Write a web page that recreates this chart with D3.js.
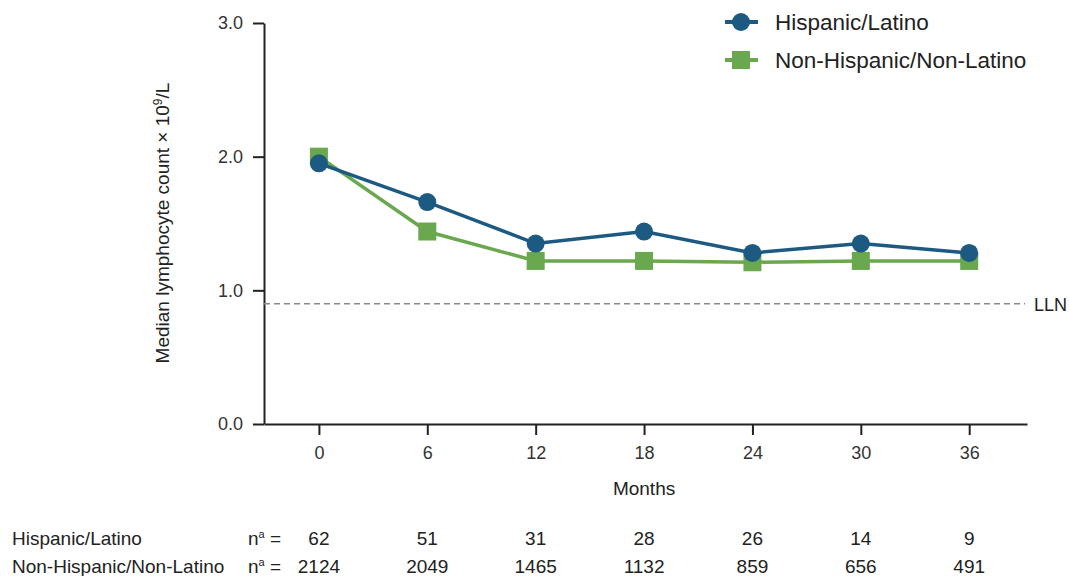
<!DOCTYPE html>
<html>
<head>
<meta charset="utf-8">
<script src="https://cdn.jsdelivr.net/npm/d3@7"></script>
<style>
  body { margin: 0; background: #fff; }
  text { font-family: "Liberation Sans", Arial, sans-serif; }
</style>
</head>
<body>
<div id="chart"></div>
<script>
// data
var months      = [0, 6, 12, 18, 24, 30, 36]
var hispanic    = [1.95, 1.66, 1.35, 1.44, 1.28, 1.35, 1.28]
var nonHispanic = [2.00, 1.44, 1.22, 1.22, 1.21, 1.22, 1.22]
var nHispanic    = [62, 51, 31, 28, 26, 14, 9]
var nNonHispanic = [2124, 2049, 1465, 1132, 859, 656, 491]
var yTicks = [0, 1, 2, 3]
var lln = 0.9
var seriesNames = ['Hispanic/Latino', 'Non-Hispanic/Non-Latino']

var width = 1069, height = 576
var blue = '#1d5a82', green = '#6aa84f'

var svg = d3.select('#chart').append('svg')
	.attr('width', width)
	.attr('height', height)

var x = d3.scaleLinear().domain([-3.04, 39.2]).range([264, 1027])
var y = d3.scaleLinear().domain([0, 3]).range([424, 23])

//y axis
var yAxis = svg.append('g')
	.attr('transform', 'translate(264,0)')
	.call(d3.axisLeft(y).tickValues(yTicks).tickFormat(d3.format('.1f')).tickSize(11).tickSizeOuter(0).tickPadding(10))
yAxis.selectAll('text').attr('font-size', '18px').attr('fill', '#333')
yAxis.selectAll('line, path').attr('stroke', '#222').attr('stroke-width', 2)

//x axis
var xAxis = svg.append('g')
	.attr('transform', 'translate(0,424)')
	.call(d3.axisBottom(x).tickValues(months).tickSize(11).tickSizeOuter(0).tickPadding(11))
xAxis.selectAll('text').attr('font-size', '18px').attr('fill', '#333')
xAxis.selectAll('line, path').attr('stroke', '#222').attr('stroke-width', 2)

svg.append('text')
	.attr('x', x(18)).attr('y', 495)
	.attr('text-anchor', 'middle')
	.attr('font-size', '19px').attr('fill', '#222')
	.text('Months')

var ylab = svg.append('text')
	.attr('transform', 'translate(169,' + 223 + ') rotate(-90)')
	.attr('text-anchor', 'middle')
	.attr('font-size', '19px').attr('fill', '#222')
ylab.append('tspan').text('Median lymphocyte count \u00d7 10')
ylab.append('tspan').attr('dy', -7).attr('font-size', '12px').text('9')
ylab.append('tspan').attr('dy', 7).text('/L')

//LLN line
svg.append('line')
	.attr('x1', 264).attr('x2', 1025)
	.attr('y1', y(lln)).attr('y2', y(lln))
	.attr('stroke', '#8a8a8a').attr('stroke-width', 1.5)
	.attr('stroke-dasharray', '6,4')
svg.append('text')
	.attr('x', 1034).attr('y', y(lln) + 7)
	.attr('font-size', '18px').attr('fill', '#222')
	.text('LLN')

var line = d3.line()
	.x(function(d, i){ return x(months[i]) })
	.y(function(d){ return y(d) })

//non-hispanic first (drawn underneath)
svg.append('path')
	.datum(nonHispanic)
	.attr('d', line)
	.attr('fill', 'none').attr('stroke', green).attr('stroke-width', 3.5)
svg.selectAll('.sq')
	.data(nonHispanic).enter()
	.append('rect')
	.attr('class', 'sq')
	.attr('x', function(d, i){ return x(months[i]) - 9 })
	.attr('y', function(d){ return y(d) - 9 })
	.attr('width', 18).attr('height', 18)
	.attr('fill', green)

svg.append('path')
	.datum(hispanic)
	.attr('d', line)
	.attr('fill', 'none').attr('stroke', blue).attr('stroke-width', 3.5)
svg.selectAll('.dot')
	.data(hispanic).enter()
	.append('circle')
	.attr('class', 'dot')
	.attr('cx', function(d, i){ return x(months[i]) })
	.attr('cy', function(d){ return y(d) })
	.attr('r', 9)
	.attr('fill', blue)

//legend
var legend = svg.selectAll('.legend')
	.data(seriesNames).enter()
	.append('g')
	.attr('class', 'legend')
	.attr('transform', function(d, i){ return 'translate(0,' + (22 + i * 38) + ')' })
legend.append('line')
	.attr('x1', 725).attr('x2', 758)
	.attr('stroke', function(d, i){ return i == 0 ? blue : green })
	.attr('stroke-width', 4)
legend.filter(function(d, i){ return i == 0 }).append('circle')
	.attr('cx', 741).attr('r', 9).attr('fill', blue)
legend.filter(function(d, i){ return i == 1 }).append('rect')
	.attr('x', 732).attr('y', -9).attr('width', 18).attr('height', 18).attr('fill', green)
legend.append('text')
	.attr('x', 775).attr('y', 8)
	.attr('font-size', '22.5px').attr('fill', '#222')
	.text(String)

//number at risk table
var rows = [nHispanic, nNonHispanic]
rows.forEach(function(r, k){
	var ry = 545 + k * 28
	svg.append('text')
		.attr('x', 12).attr('y', ry)
		.attr('font-size', '19px').attr('fill', '#222')
		.text(seriesNames[k])
	var n = svg.append('text')
		.attr('x', 248).attr('y', ry)
		.attr('font-size', '19px').attr('fill', '#222')
	n.append('tspan').text('n')
	n.append('tspan').attr('dy', -7).attr('font-size', '11px').text('a')
	n.append('tspan').attr('dy', 7).text(' =')
	svg.selectAll('.n' + k)
		.data(r).enter()
		.append('text')
		.attr('class', 'n' + k)
		.attr('x', function(d, i){ return x(months[i]) })
		.attr('y', ry)
		.attr('text-anchor', 'middle')
		.attr('font-size', '19px').attr('fill', '#222')
		.text(String)
})
</script>
</body>
</html>
